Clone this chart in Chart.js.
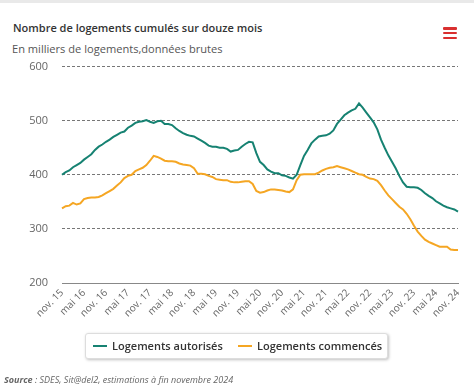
<!DOCTYPE html>
<html><head><meta charset="utf-8">
<script src="https://cdn.jsdelivr.net/npm/chart.js@4"></script>
<style>
html,body{margin:0;padding:0;background:#fff;width:474px;height:391px;overflow:hidden;font-family:"Open Sans",sans-serif;}
#topbar{position:absolute;left:0;top:0;width:474px;height:3px;background:#e9e9e9;}
#title{position:absolute;left:13px;top:20px;font-size:11px;font-weight:600;color:#333;white-space:nowrap;}
#subtitle{position:absolute;left:12px;top:41px;font-size:11.1px;color:#555;white-space:nowrap;}
#menu{position:absolute;left:443px;top:27px;width:14px;}
#menu div{height:2.5px;background:#d93030;margin-bottom:2.3px;border-radius:1px;}
#wrap{position:absolute;left:0;top:46px;width:474px;height:284px;}
#legend{position:absolute;left:85px;top:333px;width:301px;height:24px;border:1px solid #ddd;border-radius:3px;box-shadow:1px 1px 3px rgba(0,0,0,0.25);background:#fff;}
.li{position:absolute;top:4px;font-size:11px;font-weight:600;color:#333;white-space:nowrap;}
.li span{display:inline-block;width:14px;height:2px;vertical-align:middle;margin-right:5px;margin-top:-2px;}
#source{position:absolute;left:4px;top:373px;font-size:9px;font-style:italic;color:#666;white-space:nowrap;}
</style></head>
<body>
<div id="topbar"></div>
<div id="title">Nombre de logements cumulés sur douze mois</div>
<div id="subtitle">En milliers de logements,données brutes</div>
<div id="menu"><div></div><div></div><div></div></div>
<div id="wrap"><canvas id="c" width="474" height="284"></canvas></div>
<div id="legend">
  <div class="li" style="left:7px"><span style="background:#168272"></span>Logements autorisés</div>
  <div class="li" style="left:152px"><span style="background:#f5a623"></span>Logements commencés</div>
</div>
<div id="source"><b>Source</b> : SDES, Sit@del2, estimations à fin novembre 2024</div>
<script>
const tickLabels = ["nov. 15","mai 16","nov. 16","mai 17","nov. 17","mai 18","nov. 18","mai 19","nov. 19","mai 20","nov. 20","mai 21","nov. 21","mai 22","nov. 22","mai 23","nov. 23","mai 24","nov. 24"];
const autorises = [400,405,408,414,418,422,428,433,438,446,452,456,461,465,470,474,478,480,487,491,496,498,499,501,498,496,499,500,494,494,492,486,481,477,474,472,471,467,463,459,454,452,452,450,450,448,443,445,446,452,457,461,460,440,424,418,410,406,403,403,399,398,395,393,400,418,435,446,458,465,471,472,473,476,482,494,502,510,515,519,522,532,524,515,506,497,484,465,450,436,424,412,398,386,378,377,377,376,372,366,361,357,351,347,343,340,338,336,332];
const commences = [338,342,343,348,345,347,355,357,358,358,359,362,366,370,374,380,386,394,398,400,407,410,413,418,426,435,433,430,426,425,425,424,421,419,418,417,412,402,402,401,398,396,392,391,390,390,387,386,386,387,388,388,383,370,367,368,371,373,373,372,371,369,368,373,390,400,401,401,401,401,404,408,411,413,414,416,414,412,410,407,404,401,400,396,393,392,389,381,371,362,355,348,341,336,328,318,306,295,287,280,276,273,270,267,267,267,262,261,261];
const yTicks = [200,300,400,500,600];

const categories = autorises.map((v,i)=> i%6===0 ? tickLabels[i/6] : '');

new Chart(document.getElementById('c'), {
  type:'line',
  data:{labels:categories, datasets:[
    {label:'Logements autorisés', data:autorises, borderColor:'#168272', borderWidth:2, pointRadius:0, tension:0, fill:false},
    {label:'Logements commencés', data:commences, borderColor:'#f5a623', borderWidth:2, pointRadius:0, tension:0, fill:false}
  ]},
  options:{
    responsive:false, animation:false, devicePixelRatio:1,
    layout:{padding:{top:6,right:16,left:0,bottom:0}},
    plugins:{legend:{display:false}, tooltip:{enabled:false}},
    scales:{
      x:{
        offset:false,
        grid:{display:false, drawTicks:false},
        border:{display:true, color:'#888', width:1},
        ticks:{autoSkip:false, maxRotation:45, minRotation:45, padding:4, color:'#666', font:{family:'Open Sans', size:10}},
        afterFit(s){s.height=47;}
      },
      y:{
        min:200, max:600,
        afterBuildTicks(s){s.ticks = yTicks.map(v=>({value:v}));},
        grid:{drawTicks:false, borderDash:[3,2], color:(ctx)=> ctx.tick && ctx.tick.value===200 ? 'rgba(0,0,0,0)' : '#777', lineWidth:1},
        border:{display:false, dash:[3,2]},
        ticks:{padding:14, color:'#666', font:{family:'Open Sans', size:11}},
        afterFit(s){s.width=62;}
      }
    }
  }
});
</script>
</body></html>
